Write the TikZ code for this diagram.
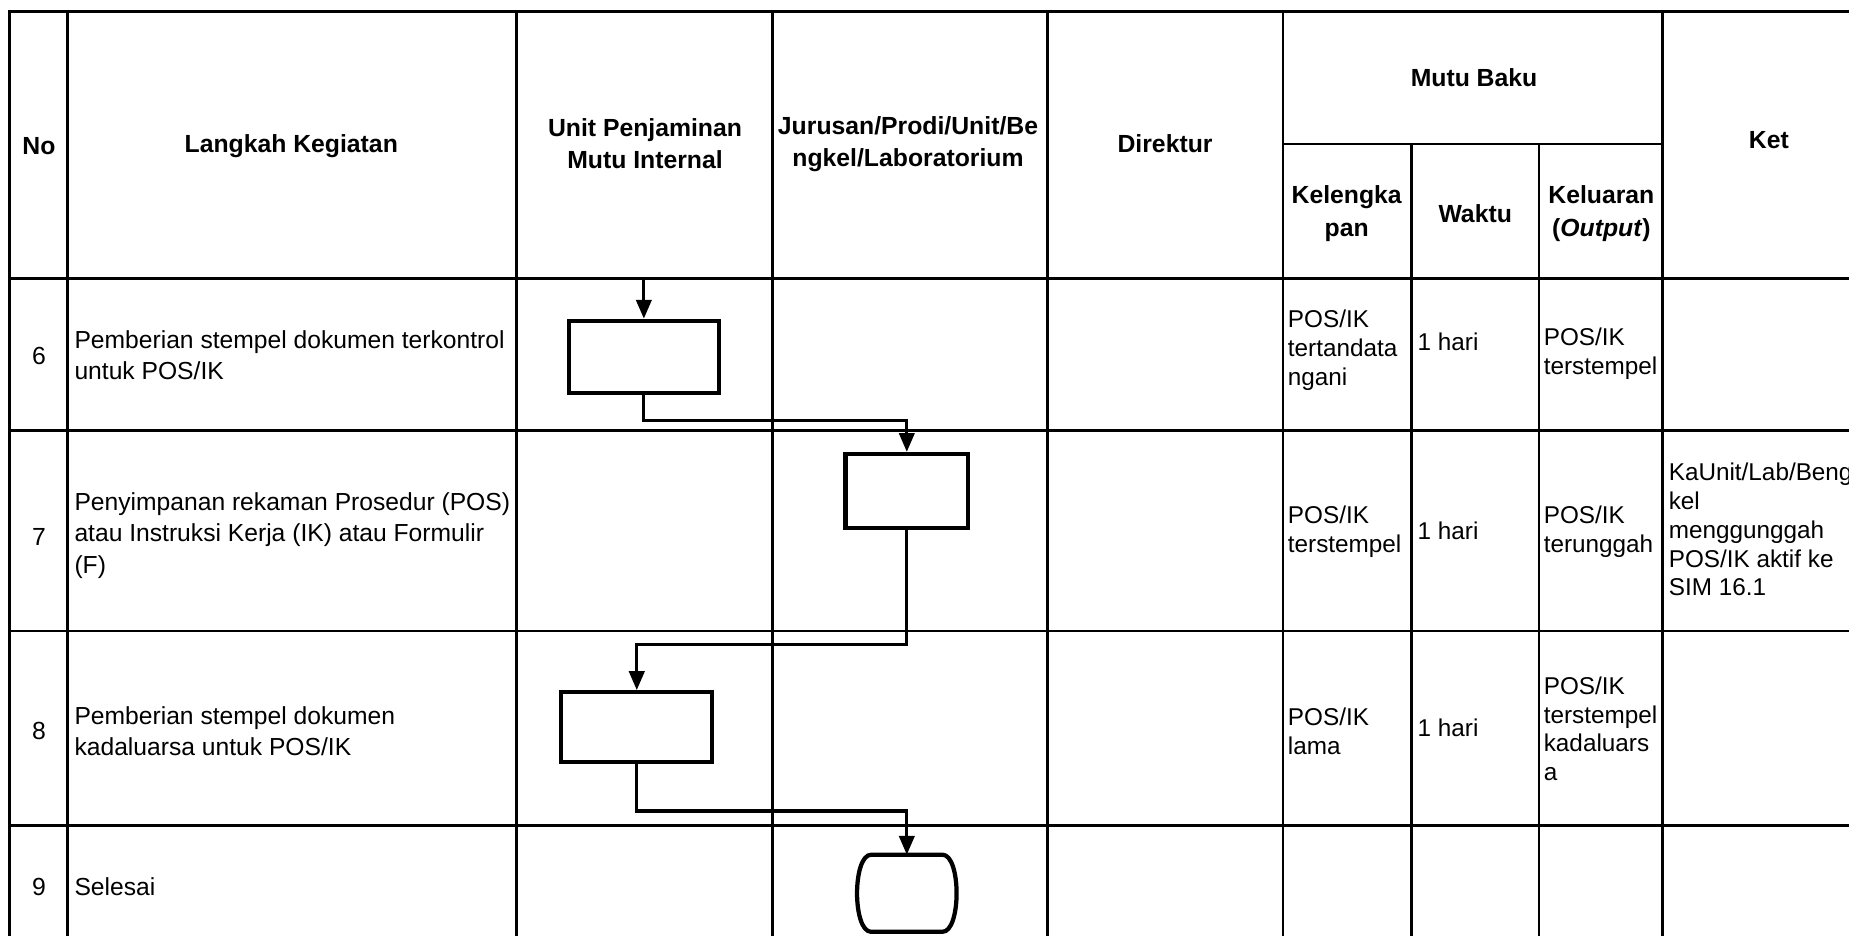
\documentclass[tikz,border=0pt]{standalone}
\usepackage{fontspec}
\setmainfont{Liberation Sans}
\usetikzlibrary{arrows.meta,calc}
\begin{document}
\begin{tikzpicture}[x=1pt,y=-1pt,
  gridline/.style={line width=2.3pt},
  procbox/.style={draw,line width=3.6pt,inner sep=0pt},
  flow/.style={line width=2.7pt,-{Triangle[length=16pt,width=13pt]}},
  hdr/.style={font=\fontsize{21}{27.5}\selectfont\bfseries,align=center,inner sep=0pt},
  cell/.style={font=\fontsize{20.6}{24.5}\selectfont,align=left,anchor=west,inner sep=0pt},
  act/.style={font=\fontsize{20.9}{26.5}\selectfont,align=left,anchor=west,inner sep=0pt},
  num/.style={font=\fontsize{21}{25}\selectfont,inner sep=0pt}]
\useasboundingbox (0,0) rectangle (1568,793);
\fill[white] (0,0) rectangle (1568,793);

% grid
\draw[gridline] (1575,10) -- (8,10) -- (8,800);
\foreach \y in {236,365,535,700} \draw[gridline] (8,\y) -- (1575,\y);
\draw[gridline] (1088,122) -- (1410,122);
\foreach \x in {57,438,655,888,1088,1410} \draw[gridline] (\x,10) -- (\x,800);
\foreach \x in {1197,1305} \draw[gridline] (\x,122) -- (\x,800);

% header
\node[hdr] (hNo) at (33,124) {No};
\node[hdr] (hLK) at (247,124) {Langkah Kegiatan};
\node[hdr] (hUPMI) at (547,122) {Unit Penjaminan\\Mutu Internal};
\node[hdr] (hJur) at (770,122) {Jurusan/Prodi/Unit/Be\\ngkel/Laboratorium};
\node[hdr] (hDir) at (988,122) {Direktur};
\node[hdr] (hMB) at (1250,66) {Mutu Baku};
\node[hdr] (hKel) at (1142,181) {Kelengka\\pan};
\node[hdr] (hWak) at (1251,181) {Waktu};
\node[hdr] (hOut) at (1358,181) {Keluaran\\(\textit{Output})};
\node[hdr] (hKet) at (1500,119) {Ket};

% numbers
\node[num] (n6) at (33,302) {6};
\node[num] (n7) at (33,455) {7};
\node[num] (n8) at (33,620) {8};
\node[num] (n9) at (33,752) {9};

% activities
\node[act] (a6) at (63,301) {Pemberian stempel dokumen terkontrol\\untuk POS/IK};
\node[act] (a7) at (63,454) {Penyimpanan rekaman Prosedur (POS)\\atau Instruksi Kerja (IK) atau Formulir\\(F)};
\node[act] (a8) at (63,620) {Pemberian stempel dokumen\\kadaluarsa untuk POS/IK};
\node[act] (a9) at (63,752) {Selesai};

% mutu baku
\node[cell] (k6) at (1092,297) {POS/IK\\tertandata\\ngani};
\node[cell] (w6) at (1202,290) {1 hari};
\node[cell] (o6) at (1309,300) {POS/IK\\terstempel};
\node[cell] (k7) at (1092,451) {POS/IK\\terstempel};
\node[cell] (w7) at (1202,450) {1 hari};
\node[cell] (o7) at (1309,451) {POS/IK\\terunggah};
\node[cell] (ket7) at (1415,449) {KaUnit/Lab/Beng\\kel\\menggunggah\\POS/IK aktif ke\\SIM 16.1};
\node[cell] (k8) at (1092,620) {POS/IK\\lama};
\node[cell] (w8) at (1202,617) {1 hari};
\node[cell] (o8) at (1309,618) {POS/IK\\terstempel\\kadaluars\\a};

% flowchart
\coordinate (start) at (546,236);
\node[procbox,minimum width=127pt,minimum height=61pt] (b6) at (546,302.5) {};
\node[procbox,minimum width=104pt,minimum height=63pt] (b7) at (769,416.5) {};
\node[procbox,minimum width=128pt,minimum height=59pt] (b8) at (540,616.5) {};
\node[minimum width=84pt,minimum height=65pt,inner sep=0pt] (t9) at (769,757.5) {};
\draw[line width=3.6pt,line join=round]
  ($(t9.north west)+(12,0)$) -- ($(t9.north east)+(-12,0)$)
  .. controls ($(t9.north east)+(4,0)$) and ($(t9.south east)+(4,0)$) .. ($(t9.south east)+(-12,0)$)
  -- ($(t9.south west)+(12,0)$)
  .. controls ($(t9.south west)+(-4,0)$) and ($(t9.north west)+(-4,0)$) .. cycle;

\draw[flow] (start) -- (b6.north);
\draw[flow] (b6.south) -- ++(0,22) -| (b7.north);
\draw[flow] (b7.south) -- ++(0,97) -| (b8.north);
\draw[flow] (b8.south) -- ++(0,40) -| (t9.north);
\end{tikzpicture}
\end{document}
